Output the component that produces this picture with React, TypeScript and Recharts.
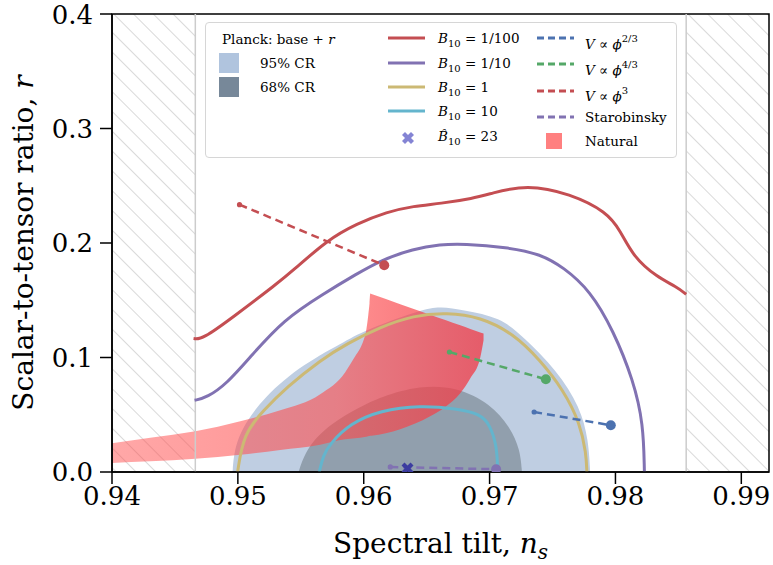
import React from 'react';
import {
  ComposedChart,
  Line,
  Area,
  Scatter,
  XAxis,
  YAxis,
  ReferenceArea,
  ReferenceLine,
  Label,
} from 'recharts';

const FONT = '"DejaVu Serif", serif';

// axis ticks
const nsTicks = [0.94, 0.95, 0.96, 0.97, 0.98, 0.99];
const rTicks = [0, 0.1, 0.2, 0.3, 0.4];

// excluded n_s ranges (hatched)
const excludedLeft = [0.94, 0.94662];
const excludedRight = [0.98562, 0.9922];

// Planck base + r credible regions (upper edge, clipped at r = 0)
const planck95Ns = [0.94958, 0.94968, 0.95019, 0.95204, 0.95522, 0.95867, 0.96025, 0.96475, 0.96608, 0.96793, 0.97084, 0.97269, 0.97535, 0.9772, 0.97786, 0.97799];
const planck95R = [0, 0.016, 0.0364, 0.0655, 0.0946, 0.115, 0.1246, 0.1424, 0.1445, 0.1415, 0.1351, 0.1179, 0.0888, 0.0567, 0.0277, 0];
const planck68Ns = [0.95482, 0.95549, 0.95734, 0.95972, 0.96131, 0.96449, 0.9674, 0.97005, 0.97164, 0.97243, 0.97257];
const planck68R = [0, 0.0218, 0.0422, 0.0568, 0.0655, 0.0757, 0.0742, 0.0597, 0.0393, 0.0192, 0];

// natural inflation band
const naturalNs = [0.94, 0.94304, 0.94662, 0.95019, 0.95337, 0.95654, 0.95853, 0.95893, 0.95932, 0.95972, 0.95996, 0.9602, 0.96036, 0.96046, 0.96052, 0.96062, 0.9629, 0.96528, 0.96648, 0.96767, 0.96847, 0.96926, 0.96952];
const naturalLow = [0.0079, 0.0093, 0.0115, 0.015, 0.0192, 0.0238, 0.0286, 0.029, 0.0294, 0.03, 0.0303, 0.0308, 0.0312, 0.0314, 0.0316, 0.0317, 0.0373, 0.0486, 0.0568, 0.0687, 0.0818, 0.1, 0.115];
const naturalHigh = [0.0251, 0.0299, 0.0355, 0.0443, 0.0539, 0.0679, 0.0871, 0.0941, 0.101, 0.108, 0.1141, 0.1238, 0.1369, 0.1473, 0.1558, 0.1554, 0.1466, 0.1373, 0.1327, 0.1281, 0.125, 0.1219, 0.1209];

// B10 contours
const bHundredthNs = [0.94648, 0.94715, 0.94963, 0.95311, 0.95442, 0.95708, 0.95946, 0.96184, 0.96396, 0.96608, 0.96872, 0.97005, 0.97296, 0.9764, 0.97932, 0.98037, 0.98143, 0.98329, 0.98488, 0.98562];
const bHundredthR = [0.1165, 0.1156, 0.1354, 0.1645, 0.1762, 0.2024, 0.2169, 0.2271, 0.2323, 0.2344, 0.239, 0.2431, 0.2513, 0.2431, 0.2271, 0.2111, 0.1878, 0.1703, 0.1616, 0.1552];
const bTenthNs = [0.94656, 0.94755, 0.94913, 0.95098, 0.95363, 0.95681, 0.95946, 0.96131, 0.96396, 0.96608, 0.96793, 0.97137, 0.97402, 0.97587, 0.97799, 0.97984, 0.98143, 0.98222, 0.9823];
const bTenthR = [0.0626, 0.065, 0.0772, 0.1004, 0.133, 0.1557, 0.1731, 0.1847, 0.1949, 0.1987, 0.1993, 0.1963, 0.1905, 0.1788, 0.1585, 0.1235, 0.0799, 0.0421, 0];
const bOneNs = [0.94998, 0.95045, 0.95204, 0.9539, 0.95655, 0.95867, 0.96131, 0.96396, 0.96661, 0.96925, 0.9719, 0.97402, 0.97587, 0.9772, 0.97767, 0.97773];
const bOneR = [0, 0.0335, 0.0539, 0.0742, 0.0976, 0.1121, 0.1266, 0.1368, 0.1392, 0.1354, 0.1208, 0.0976, 0.0715, 0.0424, 0.0162, 0];
const bTenNs = [0.95647, 0.95678, 0.95734, 0.95893, 0.96131, 0.96449, 0.9674, 0.96925, 0.97005, 0.97058, 0.97063];
const bTenR = [0, 0.0146, 0.0249, 0.0424, 0.0538, 0.0582, 0.0553, 0.0507, 0.041, 0.0219, 0.0044];

// single-field models (first point small dot, second point large dot)
const phiTwoThirdsNs = [0.97354, 0.97963];
const phiTwoThirdsR = [0.0524, 0.0408];
const phiFourThirdsNs = [0.96681, 0.97447];
const phiFourThirdsR = [0.1048, 0.081];
const phiCubeNs = [0.95013, 0.96163];
const phiCubeR = [0.2335, 0.1805];
const starobinskyNs = [0.96211, 0.97052];
const starobinskyR = [0.0044, 0.0024];

const bHatNs = [0.96348];
const bHatR = [0.003];

const pts = (ns: number[], r: number[]) => ns.map((x, i) => ({ x, r: r[i] }));
const naturalData = naturalNs.map((x, i) => ({ x, range: [naturalLow[i], naturalHigh[i]] }));

const C = {
  red: '#c44e52',
  purple: '#8172b2',
  yellow: '#ccb974',
  cyan: '#64b5cd',
  blue: '#4c72b0',
  green: '#55a868',
};

const endDot = (color: string) => (props: any) => {
  const { cx, cy, index } = props;
  return <circle key={`d${index}`} cx={cx} cy={cy} r={index === 0 ? 2.6 : 5} fill={color} stroke="none" />;
};

const XMark = (props: any) => {
  const { cx, cy } = props;
  const s = 4.5;
  return (
    <g stroke="#3c3ca0" strokeWidth={4.2}>
      <line x1={cx - s} y1={cy - s} x2={cx + s} y2={cy + s} />
      <line x1={cx - s} y1={cy + s} x2={cx + s} y2={cy - s} />
    </g>
  );
};

const XTitle = (props: any) => {
  const { x, y, width } = props.viewBox;
  return (
    <text x={x + width / 2} y={y + 81} textAnchor="middle" fontFamily={FONT} fontSize={28} fill="#000">
      Spectral tilt, <tspan fontStyle="italic">n</tspan>
      <tspan fontStyle="italic" fontSize={20} dy={6}>s</tspan>
    </text>
  );
};

const YTitle = (props: any) => {
  const { y, height } = props.viewBox;
  const cx = 33;
  const cy = y + height / 2;
  return (
    <text x={cx} y={cy} transform={`rotate(-90, ${cx}, ${cy})`} textAnchor="middle" fontFamily={FONT} fontSize={28} fill="#000">
      Scalar-to-tensor ratio, <tspan fontStyle="italic">r</tspan>
    </text>
  );
};

const Txt = ({ left, cy, children }: any) => (
  <div style={{ position: 'absolute', left, top: cy - 9, height: 18, lineHeight: '18px', whiteSpace: 'nowrap' }}>{children}</div>
);

const B10 = ({ hat, v }: { hat?: boolean; v: string }) => (
  <span>
    <i>{hat ? 'B\u0302' : 'B'}</i>
    <span style={{ fontSize: 10, verticalAlign: -4 }}>10</span> = {v}
  </span>
);

const Vphi = ({ p }: { p: string }) => (
  <span>
    <i>V</i> ∝ <i>ϕ</i>
    <span style={{ fontSize: 10, verticalAlign: 7 }}>{p}</span>
  </span>
);

const LineSample = ({ left, cy, color, dashed }: any) => (
  <svg style={{ position: 'absolute', left, top: cy - 3 }} width={37} height={6}>
    <line x1={0} y1={3} x2={37} y2={3} stroke={color} strokeWidth={3} strokeDasharray={dashed ? '7 4' : undefined} />
  </svg>
);

const ChartLegend = () => (
  <div
    style={{
      position: 'absolute',
      left: 205,
      top: 22,
      width: 470,
      height: 134,
      border: '1px solid #d6d6d6',
      borderRadius: 4,
      background: 'rgba(255,255,255,0.85)',
      fontFamily: FONT,
      fontSize: 13.5,
      color: '#000',
    }}
  >
    <Txt left={16} cy={16}>Planck: base + <i>r</i></Txt>
    <div style={{ position: 'absolute', left: 13, top: 30, width: 20, height: 20, background: '#b0c4de' }} />
    <Txt left={54} cy={40}>95% CR</Txt>
    <div style={{ position: 'absolute', left: 13, top: 54, width: 20, height: 20, background: '#778899' }} />
    <Txt left={54} cy={64}>68% CR</Txt>

    <LineSample left={182} cy={15} color={C.red} />
    <Txt left={232} cy={15}><B10 v="1/100" /></Txt>
    <LineSample left={182} cy={39.5} color={C.purple} />
    <Txt left={232} cy={39.5}><B10 v="1/10" /></Txt>
    <LineSample left={182} cy={64} color={C.yellow} />
    <Txt left={232} cy={64}><B10 v="1" /></Txt>
    <LineSample left={182} cy={88} color={C.cyan} />
    <Txt left={232} cy={88}><B10 v="10" /></Txt>
    <svg style={{ position: 'absolute', left: 193, top: 106 }} width={18} height={18}>
      <g stroke="#8484d4" strokeWidth={4.2}>
        <line x1={4.5} y1={4.5} x2={13.5} y2={13.5} />
        <line x1={4.5} y1={13.5} x2={13.5} y2={4.5} />
      </g>
    </svg>
    <Txt left={232} cy={113}><B10 hat v="23" /></Txt>

    <LineSample left={331} cy={15} color={C.blue} dashed />
    <Txt left={379} cy={16}><Vphi p="2/3" /></Txt>
    <LineSample left={331} cy={41} color={C.green} dashed />
    <Txt left={379} cy={42}><Vphi p="4/3" /></Txt>
    <LineSample left={331} cy={67.5} color={C.red} dashed />
    <Txt left={379} cy={68}><Vphi p="3" /></Txt>
    <LineSample left={331} cy={94} color={C.purple} dashed />
    <Txt left={379} cy={94}>Starobinsky</Txt>
    <div style={{ position: 'absolute', left: 340, top: 110, width: 16, height: 16, background: '#ff8080' }} />
    <Txt left={379} cy={118}>Natural</Txt>
  </div>
);

const tickStyle = { fill: '#000', fontSize: 26, fontFamily: FONT };

export default function App() {
  return (
    <div style={{ position: 'absolute', left: 0, top: 0, width: 773, height: 565, background: '#fff' }}>
      <ComposedChart width={773} height={565} margin={{ top: 14, right: 4, bottom: 33, left: 12 }}>
        <defs>
          <pattern id="hatch" width={14} height={14} patternUnits="userSpaceOnUse" patternTransform="rotate(-45)">
            <line x1={0} y1={0} x2={0} y2={14} stroke="#b4b4b4" strokeWidth={1} />
          </pattern>
          <linearGradient id="naturalFill" x1="0" y1="0" x2="1" y2="0">
            <stop offset="0" stopColor="#ff5050" stopOpacity={0.5} />
            <stop offset="0.6" stopColor="#ff4a4a" stopOpacity={0.6} />
            <stop offset="1" stopColor="#f03c48" stopOpacity={0.78} />
          </linearGradient>
        </defs>
        <XAxis
          type="number"
          dataKey="x"
          domain={[0.94, 0.9922]}
          allowDataOverflow
          ticks={nsTicks}
          tickFormatter={(v: number) => v.toFixed(2)}
          height={60}
          tickSize={12}
          tickMargin={3}
          tick={tickStyle}
          axisLine={{ stroke: '#000', strokeWidth: 1.5 }}
          tickLine={{ stroke: '#000', strokeWidth: 1.5 }}
        >
          <Label content={XTitle} />
        </XAxis>
        <YAxis
          type="number"
          domain={[0, 0.4]}
          allowDataOverflow
          ticks={rTicks}
          tickFormatter={(v: number) => v.toFixed(1)}
          width={100}
          tickSize={12}
          tickMargin={7}
          tick={tickStyle}
          axisLine={{ stroke: '#000', strokeWidth: 1.5 }}
          tickLine={{ stroke: '#000', strokeWidth: 1.5 }}
        >
          <Label content={YTitle} />
        </YAxis>

        <ReferenceArea x1={excludedLeft[0]} x2={excludedLeft[1]} y1={0} y2={0.4} fill="url(#hatch)" fillOpacity={1} stroke="none" />
        <ReferenceArea x1={excludedRight[0]} x2={excludedRight[1]} y1={0} y2={0.4} fill="url(#hatch)" fillOpacity={1} stroke="none" />
        <ReferenceLine x={excludedLeft[1]} stroke="#cccccc" strokeWidth={1.5} />
        <ReferenceLine x={excludedRight[0]} stroke="#cccccc" strokeWidth={1.5} />

        <Area data={pts(planck95Ns, planck95R)} dataKey="r" type="basis" fill="#bfcee2" fillOpacity={1} stroke="none" dot={false} activeDot={false} isAnimationActive={false} />
        <Area data={pts(planck68Ns, planck68R)} dataKey="r" type="basis" fill="#919fad" fillOpacity={1} stroke="none" dot={false} activeDot={false} isAnimationActive={false} />
        <Area data={naturalData} dataKey="range" type="monotone" fill="url(#naturalFill)" fillOpacity={1} stroke="none" dot={false} activeDot={false} isAnimationActive={false} />

        <Line data={pts(bHundredthNs, bHundredthR)} dataKey="r" type="basis" stroke={C.red} strokeWidth={3} dot={false} activeDot={false} isAnimationActive={false} />
        <Line data={pts(bTenthNs, bTenthR)} dataKey="r" type="basis" stroke={C.purple} strokeWidth={3} dot={false} activeDot={false} isAnimationActive={false} />
        <Line data={pts(bOneNs, bOneR)} dataKey="r" type="basis" stroke={C.yellow} strokeWidth={3} dot={false} activeDot={false} isAnimationActive={false} />
        <Line data={pts(bTenNs, bTenR)} dataKey="r" type="basis" stroke={C.cyan} strokeWidth={3} dot={false} activeDot={false} isAnimationActive={false} />

        <Line data={pts(phiTwoThirdsNs, phiTwoThirdsR)} dataKey="r" type="linear" stroke={C.blue} strokeWidth={2.5} strokeDasharray="8 5" dot={endDot(C.blue)} activeDot={false} isAnimationActive={false} />
        <Line data={pts(phiFourThirdsNs, phiFourThirdsR)} dataKey="r" type="linear" stroke={C.green} strokeWidth={2.5} strokeDasharray="8 5" dot={endDot(C.green)} activeDot={false} isAnimationActive={false} />
        <Line data={pts(phiCubeNs, phiCubeR)} dataKey="r" type="linear" stroke={C.red} strokeWidth={2.5} strokeDasharray="8 5" dot={endDot(C.red)} activeDot={false} isAnimationActive={false} />
        <Line data={pts(starobinskyNs, starobinskyR)} dataKey="r" type="linear" stroke={C.purple} strokeWidth={2.5} strokeDasharray="8 5" dot={endDot(C.purple)} activeDot={false} isAnimationActive={false} />

        <Scatter data={pts(bHatNs, bHatR)} dataKey="r" shape={XMark} isAnimationActive={false} />

        <ReferenceArea x1={0.94} x2={0.9922} y1={0} y2={0.4} fill="none" stroke="#000" strokeWidth={1.5} />
      </ComposedChart>
      <ChartLegend />
    </div>
  );
}
